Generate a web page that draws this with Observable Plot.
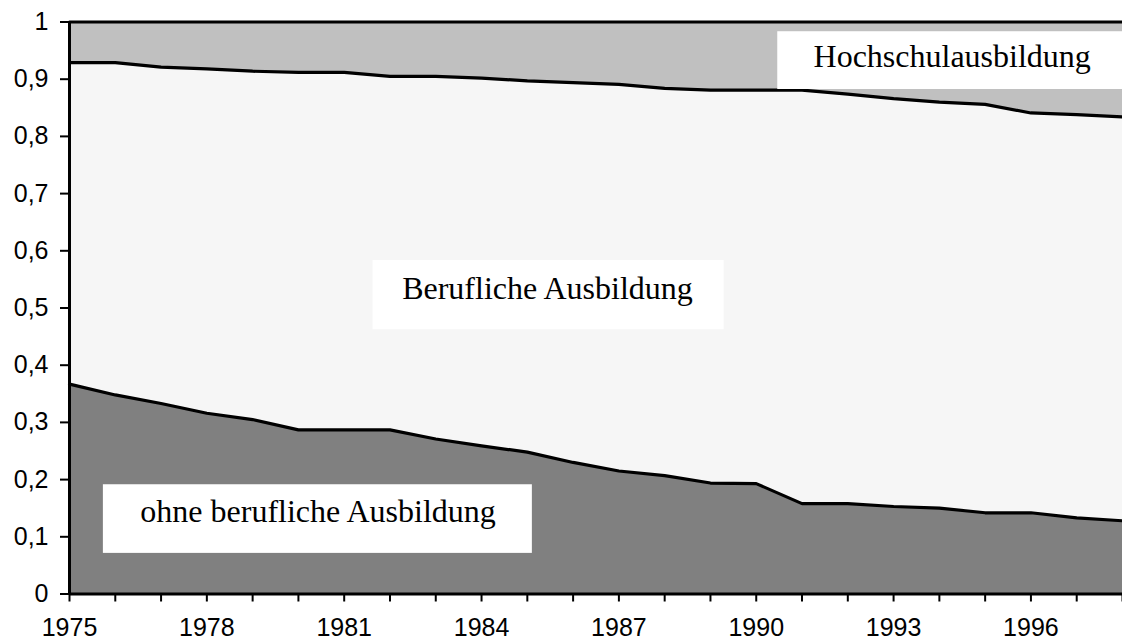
<!DOCTYPE html>
<html>
<head>
<meta charset="utf-8">
<script src="https://cdn.jsdelivr.net/npm/d3@7"></script>
<script src="https://cdn.jsdelivr.net/npm/@observablehq/plot@0.6"></script>
<style>
  html, body { margin: 0; padding: 0; background: #fff; }
  #chart svg { display: block; }
</style>
</head>
<body>
<div id="chart"></div>
<script>
// ---- Data (shares of workforce by qualification) ----
const years = [1975, 1976, 1977, 1978, 1979, 1980, 1981, 1982, 1983, 1984, 1985, 1986,
               1987, 1988, 1989, 1990, 1991, 1992, 1993, 1994, 1995, 1996, 1997, 1998];

const ohneAusbildung = [0.367, 0.348, 0.333, 0.316, 0.305, 0.287, 0.287, 0.287, 0.271, 0.259, 0.248, 0.230,
                        0.215, 0.207, 0.194, 0.193, 0.158, 0.158, 0.153, 0.150, 0.142, 0.142, 0.133, 0.128];

const beruflicheAusbildung = [0.562, 0.581, 0.588, 0.602, 0.609, 0.625, 0.625, 0.618, 0.634, 0.643, 0.649, 0.664,
                              0.676, 0.677, 0.687, 0.688, 0.723, 0.716, 0.713, 0.710, 0.714, 0.699, 0.705, 0.706];

const hochschulausbildung = [0.071, 0.071, 0.079, 0.082, 0.086, 0.088, 0.088, 0.095, 0.095, 0.098, 0.103, 0.106,
                             0.109, 0.116, 0.119, 0.119, 0.119, 0.126, 0.134, 0.140, 0.144, 0.159, 0.162, 0.166];

const seriesNames = ["ohne berufliche Ausbildung", "Berufliche Ausbildung", "Hochschulausbildung"];
const seriesColors = ["#808080", "#F6F6F6", "#C0C0C0"];

const xTickLabels = [1975, 1978, 1981, 1984, 1987, 1990, 1993, 1996];
const yTicks = [0, 0.1, 0.2, 0.3, 0.4, 0.5, 0.6, 0.7, 0.8, 0.9, 1];

// ---- Long table for the stacked areas ----
const seriesValues = [ohneAusbildung, beruflicheAusbildung, hochschulausbildung];
const rows = [];
years.forEach((year, i) => {
  seriesNames.forEach((name, s) => {
    rows.push({ year, series: name, value: seriesValues[s][i] });
  });
});

// ---- In-chart label boxes (annotation placement in data coordinates) ----
const labelBoxes = [
  { name: "Hochschulausbildung",        x1: 1990.47, x2: 1998,    y1: 0.882, y2: 0.983, tx: 1994.28, ty: 0.939 },
  { name: "Berufliche Ausbildung",      x1: 1981.63, x2: 1989.30, y1: 0.462, y2: 0.583, tx: 1985.44, ty: 0.534 },
  { name: "ohne berufliche Ausbildung", x1: 1975.74, x2: 1985.11, y1: 0.071, y2: 0.191, tx: 1980.43, ty: 0.143 }
];

const fmtY = d => (d === 0 ? "0" : d === 1 ? "1" : d.toFixed(1).replace(".", ","));

const chart = Plot.plot({
  width: 1122,
  height: 644,
  marginLeft: 69,
  marginRight: 0,
  marginTop: 21.5,
  marginBottom: 50.5,
  style: {
    fontFamily: "'Liberation Sans', Arial, sans-serif",
    fontSize: "26px",
    background: "#fff",
    color: "#000",
    overflow: "visible"
  },
  x: { domain: [1975, 1998] },
  y: { domain: [0, 1] },
  color: { domain: seriesNames, range: seriesColors },
  marks: [
    Plot.areaY(rows, { x: "year", y: "value", fill: "series", order: seriesNames }),
    Plot.lineY(rows, Plot.stackY2({ x: "year", y: "value", z: "series", order: seriesNames,
                                    stroke: "#000", strokeWidth: 3.2 })),
    Plot.rect(labelBoxes, { x1: "x1", x2: "x2", y1: "y1", y2: "y2", fill: "#fff" }),
    Plot.text(labelBoxes, { x: "tx", y: "ty", text: "name",
                            fontFamily: "'Liberation Serif', 'Times New Roman', serif",
                            fontSize: 32, fill: "#000" }),
    Plot.axisX({ ticks: years, tickSize: 8, tickFormat: () => "", strokeWidth: 2 }),
    Plot.axisX({ ticks: xTickLabels, tickSize: 0, tickPadding: 24, fontSize: 25, tickFormat: d => String(d) }),
    Plot.axisY({ ticks: yTicks, tickSize: 9, tickPadding: 12, fontSize: 25, tickFormat: fmtY, strokeWidth: 2 }),
    Plot.ruleX([1975], { stroke: "#000", strokeWidth: 3 }),
    Plot.ruleY([0], { stroke: "#000", strokeWidth: 3 })
  ]
});

document.getElementById("chart").appendChild(chart);
</script>
</body>
</html>
